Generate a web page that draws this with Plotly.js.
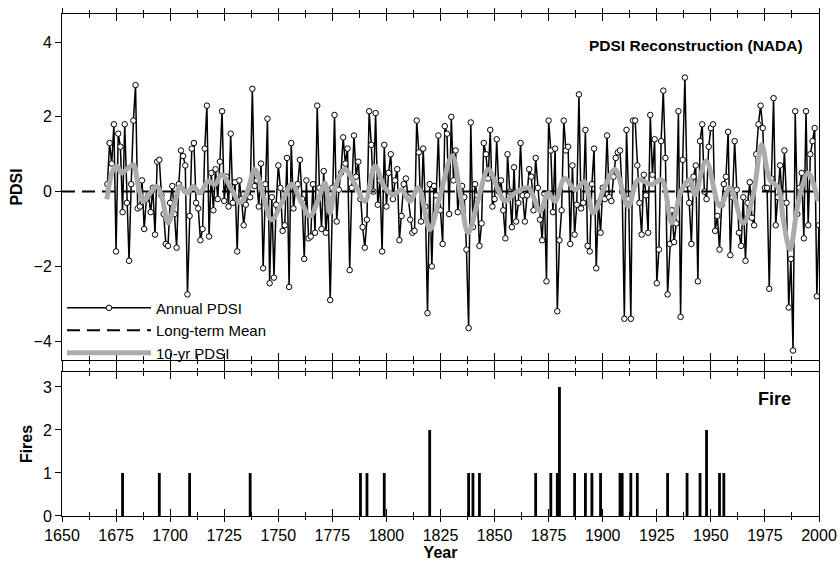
<!DOCTYPE html>
<html>
<head>
<meta charset="utf-8">
<script src="https://cdn.plot.ly/plotly-3.0.1.min.js"></script>
<style>html,body{margin:0;padding:0;background:#fff;}#chart{width:840px;height:567px;}</style>
</head>
<body>
<div id="chart"></div>
<script>
// Annual PDSI reconstruction (NADA), one value per year starting at startYear
const startYear = 1671;
const annualPDSI = [
  0.2, 1.3, 0.75, 1.8, -1.6, 1.55, 1.2, -0.55, 1.8, -0.3,
  -1.85, 0.2, 1.9, 2.85, -0.45, -0.4, 0.3, -1.0, -0.2, -0.1,
  -0.55, 0.1, -1.15, 0.8, 0.85, -0.1, -0.6, -1.4, -1.45, -0.3,
  0.15, -0.6, -1.5, 0.2, 1.1, 0.95, 0.7, -2.75, -0.65, 1.15,
  1.3, -0.3, -0.45, -1.3, -1.0, 1.15, 2.3, -1.2, 0.5, -0.5,
  0.6, -0.2, 0.8, 2.15, -0.25, 0.4, -0.4, 1.55, -0.3, 0.25,
  -1.6, 0.3, -0.2, -0.9, -0.35, -0.1, -0.15, 2.75, 0.15, 0.3,
  -0.4, 0.75, -2.05, 0.2, 1.95, -2.45, -0.15, -2.3, -0.35, 0.7,
  0.1, -1.05, -0.9, 0.9, -2.55, 1.3, -0.45, 0.1, 0.2, 0.85,
  -0.2, -1.8, 0.3, -1.25, -1.2, 0.2, -1.1, 2.3, 0.1, -1.0,
  0.55, -1.1, -0.2, -2.9, 0.1, 2.05, -0.8, 0.05, 0.5, 1.45,
  0.75, 1.15, -2.1, 0.1, 1.5, 0.4, 0.8, -0.2, -0.95, -1.5,
  -0.75, 2.15, 1.25, 0.0, 2.1, -0.35, 0.3, -1.6, 1.25, -0.4,
  0.5, 1.0, -0.2, 0.3, 0.6, -1.3, -0.65, 0.2, 0.35, -0.15,
  -0.75, -1.1, -1.05, 1.9, 1.05, -0.8, 1.15, -0.4, -3.25, 0.2,
  -2.0, 0.15, -0.1, 1.5, -0.5, -1.4, 1.75, 1.55, -0.6, 2.0,
  0.3, 1.1, -0.55, 0.1, 0.15, -0.15, -1.55, -3.65, 1.85, -0.95,
  0.2, -0.1, -1.45, -0.85, 1.3, 1.0, 0.35, 1.65, -0.4, -0.2,
  1.4, 0.0, 0.3, -0.5, -1.25, 1.0, 0.0, -0.95, 0.65, -0.8,
  -0.3, 1.3, -0.1, -0.8, -0.1, 0.6, 0.4, -0.5, 0.9, 0.1,
  -0.75, -1.3, -0.05, -2.4, 1.9, 1.1, -0.55, 1.15, -3.2, -1.3,
  -0.5, 1.9, 1.1, 1.2, -1.4, 0.7, -1.15, -0.35, 2.6, -0.45,
  -0.3, 1.65, -1.45, -1.6, 0.2, 1.15, -2.05, -0.3, -1.1, 0.1,
  -0.2, 1.5, -0.15, -0.25, 0.4, 0.9, 1.05, 1.1, 0.0, -3.4,
  1.65, -0.2, -3.4, 1.9, 1.9, 0.7, -0.3, -1.15, 0.45, -0.1,
  -1.1, 2.05, 0.45, 1.4, -2.45, -1.55, 1.35, 2.7, 0.9, -2.75,
  -1.4, -0.5, -1.35, -0.85, 2.15, -3.35, 0.85, 3.05, 0.2, -0.3,
  -1.4, 0.4, 0.7, -2.4, 1.35, 1.8, 0.0, -0.2, 1.2, 1.7,
  1.8, -1.05, -0.65, -1.55, -0.35, 0.2, 0.4, 1.6, -1.7, -0.15,
  1.35, 0.05, -1.1, -1.45, -0.15, -1.85, -0.3, 0.25, -0.7, -0.9,
  1.0, 1.8, 2.3, 1.7, 0.1, 0.1, -2.6, 0.35, 2.5, -0.9,
  -0.15, 0.7, -0.3, 1.1, -0.3, -3.1, -1.8, -4.25, 2.15, -0.6,
  0.1, 0.5, -1.25, 2.15, -0.9, 1.0, 1.35, 1.7, -2.8, -0.9
];
const annualYears = annualPDSI.map((v, i) => startYear + i);

// 10-yr smoothed PDSI
const smoothYears = [1670.7, 1673.7, 1675.3, 1677.6, 1680.7, 1683, 1685.3, 1687.6, 1690.7, 1693.8,
  1696.1, 1699.1, 1702.2, 1704.6, 1707.7, 1710.7, 1713.8, 1717.6, 1720.7, 1723.8,
  1728.5, 1732.3, 1735.4, 1739.2, 1743.1, 1746.9, 1751.6, 1756.2, 1760.8, 1764.7,
  1768.5, 1771.6, 1773.9, 1776.2, 1780.8, 1785.5, 1790.1, 1794.7, 1799.3, 1803.2,
  1807, 1810.9, 1814.7, 1820.1, 1824, 1830.4, 1834, 1837.8, 1842.5, 1847.1,
  1851.7, 1854.8, 1859.4, 1865.6, 1871, 1874.8, 1877.9, 1882.5, 1887.2, 1891.5,
  1895.6, 1901, 1905.7, 1911.8, 1916.4, 1922.6, 1927.2, 1931.9, 1936.5, 1940.3,
  1942.6, 1947.8, 1954.2, 1958.8, 1965, 1969.6, 1973.5, 1977.3, 1981.2, 1983.5,
  1986.6, 1990.4, 1995, 1999.6];
const smoothPDSI = [-0.21, 0.59, 0.68, 0.5, 0.63, 0.72, 0.14, -0.26, -0.04, 0.14,
  -0.12, -0.84, -0.3, 0.14, -0.04, 0.14, -0.04, 0.28, 0.19, 0.45,
  0.05, -0.3, -0.04, 0.59, -0.12, -0.75, -0.3, 0.19, -0.3, -0.66,
  -0.21, 0.23, -0.57, 0.1, 0.59, 0.19, -0.26, 0.68, 0.1, -0.08,
  0.05, -0.26, 0.1, -1.01, -0.3, 0.95, 0.0, -1.1, -0.2, 0.59,
  0.05, -0.26, -0.04, 0.1, -0.52, -0.04, -0.26, 0.36, 0.05, 0.26,
  -0.57, 0.14, 0.59, -0.39, 0.32, 0.19, 0.32, -0.84, 0.05, 0.32,
  -0.08, 0.82, -0.39, 0.1, -0.84, -0.08, 1.25, 0.32, 0.1, -0.75,
  -1.55, -0.3, 0.5, -0.26];

// Long-term mean
const meanYears = [1650, 2000];
const meanPDSI = [0, 0];

// Fires per year
const fireYears = [1678, 1695, 1709, 1737, 1788, 1791, 1799, 1820, 1838, 1840, 1843, 1869, 1876,
  1879, 1880, 1887, 1892, 1895, 1899, 1908, 1909, 1913, 1916, 1930, 1939, 1945, 1948, 1954, 1956];
const fireCounts = [1, 1, 1, 1, 1, 1, 1, 2, 1, 1, 1, 1, 1,
  1, 3, 1, 1, 1, 1, 1, 1, 1, 1, 1, 1, 1, 2, 1, 1];

const xTicks = [1650, 1675, 1700, 1725, 1750, 1775, 1800, 1825, 1850, 1875, 1900, 1925, 1950, 1975, 2000];
const pdsiTicks = [-4, -2, 0, 2, 4];
const fireTicks = [0, 1, 2, 3];

const FONT = 'Arial, "Liberation Sans", sans-serif';

const traces = [
  {
    x: annualYears, y: annualPDSI, type: 'scatter', mode: 'lines+markers',
    name: 'Annual PDSI', xaxis: 'x', yaxis: 'y', legendrank: 1,
    line: {color: '#000', width: 1.5},
    marker: {symbol: 'circle', size: 5.5, color: '#fff', line: {color: '#000', width: 1}}
  },
  {
    x: meanYears, y: meanPDSI, type: 'scatter', mode: 'lines',
    name: 'Long-term Mean', xaxis: 'x', yaxis: 'y', legendrank: 2,
    line: {color: '#000', width: 2, dash: '13px,7px'}
  },
  {
    x: smoothYears, y: smoothPDSI, type: 'scatter', mode: 'lines',
    name: '10-yr PDSI', xaxis: 'x', yaxis: 'y', legendrank: 3,
    line: {color: '#ababab', width: 5, shape: 'spline', smoothing: 1}
  },
  {
    x: fireYears, y: fireCounts, type: 'bar', width: 1.3,
    name: 'Fire', xaxis: 'x2', yaxis: 'y2', showlegend: false,
    marker: {color: '#000', line: {width: 0}}
  },
  // empty traces so the overlay tick axes are drawn
  {x: [], y: [], type: 'scatter', mode: 'lines', xaxis: 'x3', yaxis: 'y', showlegend: false, hoverinfo: 'skip'},
  {x: [], y: [], type: 'scatter', mode: 'lines', xaxis: 'x4', yaxis: 'y2', showlegend: false, hoverinfo: 'skip'}
];

const axCommon = {
  showline: true, linecolor: '#000', linewidth: 1, showgrid: false, zeroline: false,
  tickcolor: '#000', tickfont: {family: FONT, size: 16, color: '#000'}
};
const titleFont = {family: FONT, size: 16, color: '#000'};

function xAx(extra) {
  return Object.assign({}, axCommon, {
    domain: [0, 1], range: [1650, 2000], tickmode: 'array', tickvals: xTicks
  }, extra);
}

const layout = {
  width: 840, height: 567,
  margin: {l: 62, r: 21, t: 14, b: 51},
  paper_bgcolor: '#fff', plot_bgcolor: '#fff',
  font: {family: FONT, color: '#000'},
  showlegend: true,
  legend: {
    x: 0.0, y: 0.447, xanchor: 'left', yanchor: 'top',
    bgcolor: 'rgba(0,0,0,0)', font: {family: FONT, size: 15, color: '#000'},
    tracegroupgap: 0, itemwidth: 84
  },
  // top panel: inside ticks (bottom + mirrored top)
  xaxis: xAx({
    anchor: 'y', showticklabels: false, ticks: 'inside', ticklen: 7, mirror: 'allticks',
    minor: {tickmode: 'linear', tick0: 1650, dtick: 12.5, ticks: 'inside', ticklen: 4, tickcolor: '#000'}
  }),
  // top panel: outside ticks overlay
  xaxis3: xAx({
    anchor: 'y', overlaying: 'x', showticklabels: false, ticks: 'outside', ticklen: 5, mirror: 'allticks',
    minor: {tickmode: 'linear', tick0: 1650, dtick: 12.5, ticks: 'outside', ticklen: 3, tickcolor: '#000'}
  }),
  yaxis: Object.assign({}, axCommon, {
    domain: [0.311, 1], anchor: 'x', range: [-4.5, 4.75],
    tickmode: 'array', tickvals: pdsiTicks, ticks: 'outside', ticklen: 6, mirror: true,
    title: {text: '<b>PDSI</b>', font: titleFont, standoff: 6}
  }),
  // bottom panel: outside ticks with labels
  xaxis2: xAx({
    anchor: 'y2', ticks: 'outside', ticklen: 5, mirror: 'allticks',
    minor: {tickmode: 'linear', tick0: 1650, dtick: 12.5, ticks: 'outside', ticklen: 3, tickcolor: '#000'},
    title: {text: '<b>Year</b>', font: titleFont, standoff: 2}
  }),
  // bottom panel: inside ticks overlay
  xaxis4: xAx({
    anchor: 'y2', overlaying: 'x2', showticklabels: false, ticks: 'inside', ticklen: 7, mirror: 'allticks',
    minor: {tickmode: 'linear', tick0: 1650, dtick: 12.5, ticks: 'inside', ticklen: 4, tickcolor: '#000'}
  }),
  yaxis2: Object.assign({}, axCommon, {
    domain: [0, 0.287], anchor: 'x2', range: [0, 3.35],
    tickmode: 'array', tickvals: fireTicks, ticks: 'outside', ticklen: 6, mirror: true,
    title: {text: '<b>Fires</b>', font: titleFont, standoff: 6}
  }),
  annotations: [
    {text: '<b>PDSI Reconstruction (NADA)</b>', xref: 'paper', yref: 'paper',
     x: 0.982, y: 0.938, xanchor: 'right', yanchor: 'middle', showarrow: false,
     font: {family: FONT, size: 15.5, color: '#000'}},
    {text: '<b>Fire</b>', xref: 'paper', yref: 'paper',
     x: 0.966, y: 0.233, xanchor: 'right', yanchor: 'middle', showarrow: false,
     font: {family: FONT, size: 18, color: '#000'}}
  ]
};

Plotly.newPlot('chart', traces, layout, {staticPlot: true, displayModeBar: false});
</script>
</body>
</html>
